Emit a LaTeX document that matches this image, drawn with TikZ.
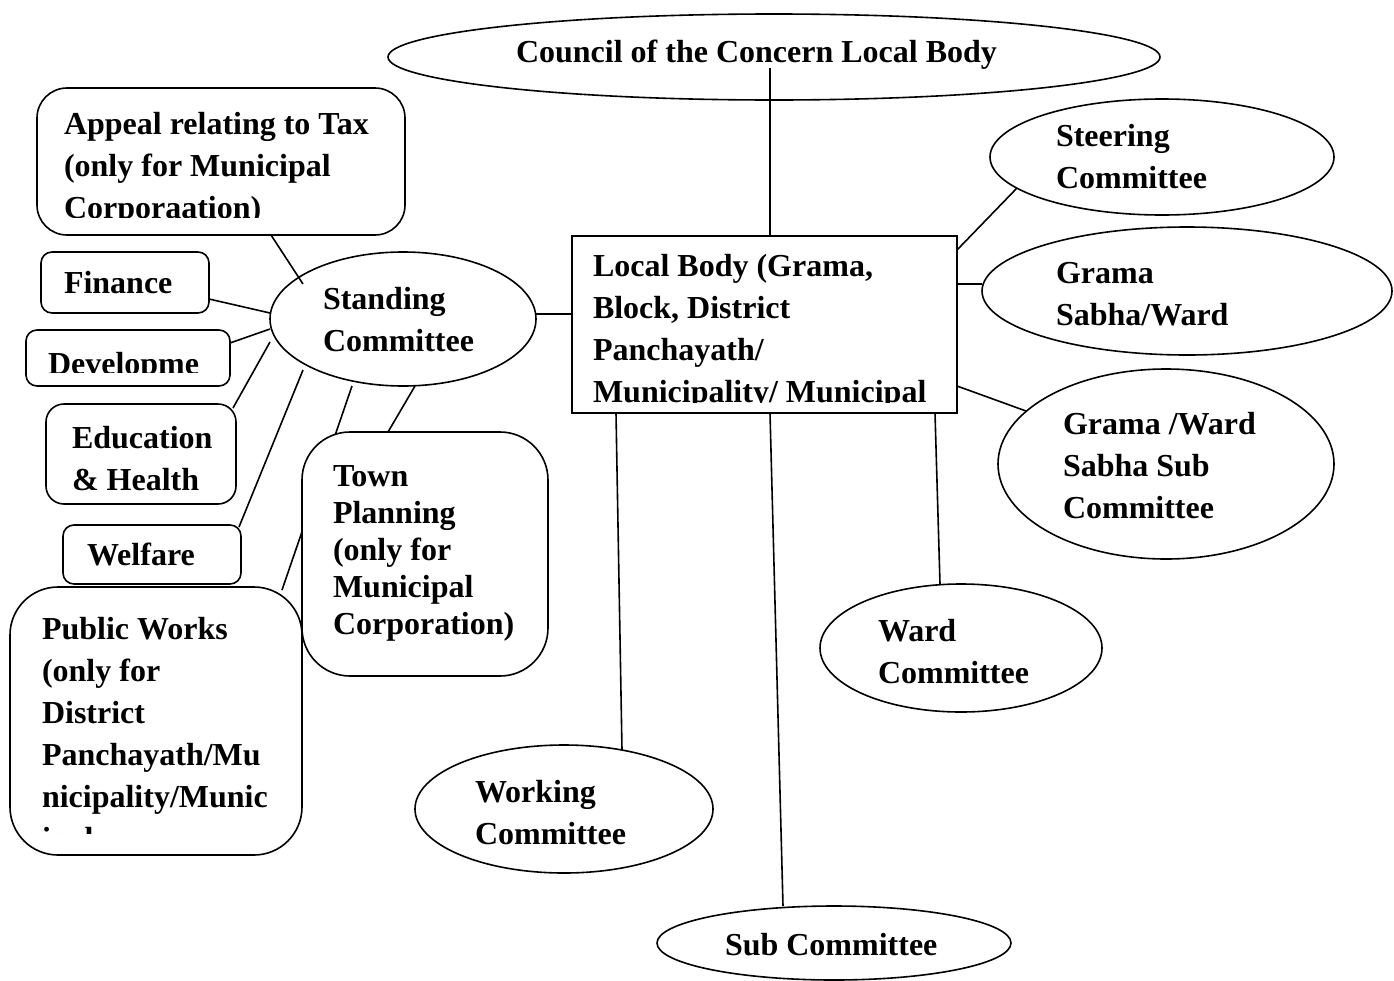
\documentclass[tikz,border=0pt]{standalone}
\usepackage{fontspec}
\setmainfont{Liberation Serif}
\usetikzlibrary{shapes.geometric,calc,backgrounds}
\newcommand{\mlines}[1]{\begin{tabular}[t]{@{}l@{}}#1\end{tabular}}
\begin{document}
\begin{tikzpicture}[x=1pt,y=-1pt,
  shp/.style={draw, line width=1.6pt, inner sep=0pt, outer sep=0pt},
  ell/.style={shp, ellipse},
  rbox/.style={shp, rectangle, rounded corners=#1},
  txt/.style={inner sep=0pt, outer sep=0pt, anchor=base west, font=\fontsize{32}{42}\selectfont\bfseries},
  txtb/.style={txt, font=\fontsize{32}{37}\selectfont\bfseries},
  conn/.style={line width=1.6pt}]
\useasboundingbox (0,0) rectangle (1394,980);

% shapes
\node[ell, minimum width=772, minimum height=86] (council) at (774,57) {};
\node[shp, rectangle, minimum width=385, minimum height=177] (local) at (764.5,324.5) {};
\node[ell, minimum width=266, minimum height=134] (stand) at (403,319) {};
\node[rbox=30, minimum width=368, minimum height=147] (appeal) at (221,161.5) {};
\node[rbox=11, minimum width=168, minimum height=61] (finance) at (125,282.5) {};
\node[rbox=11, minimum width=204, minimum height=56] (devel) at (128,358) {};
\node[rbox=18, minimum width=190, minimum height=100] (edu) at (141,454) {};
\node[rbox=11, minimum width=178, minimum height=59] (welfare) at (152,554.5) {};
\node[rbox=48, minimum width=292, minimum height=268] (public) at (156,721) {};
\node[rbox=48, fill=white, minimum width=246, minimum height=244] (town) at (425,554) {};
\node[ell, minimum width=344, minimum height=116] (steer) at (1162,157) {};
\node[ell, minimum width=410, minimum height=128] (grama) at (1187,291) {};
\node[ell, minimum width=336, minimum height=190] (gsub) at (1166,464) {};
\node[ell, minimum width=282, minimum height=128] (ward) at (961,648) {};
\node[ell, minimum width=298, minimum height=128] (working) at (564,809) {};
\node[ell, minimum width=354, minimum height=74] (sub) at (834,943) {};

% texts
\node[txt] (council-t) at (516,62) {Council of the Concern Local Body};
\begin{scope}
  \clip (572,236) rectangle (957,402);
  \node[txt] (local-t) at (593,276) {\mlines{Local Body (Grama,\\Block, District\\Panchayath/\\Municipality/ Municipal}};
\end{scope}
\node[txt] (stand-t) at (323,309) {\mlines{Standing\\Committee}};
\begin{scope}
  \clip (37,88) rectangle (405,217);
  \node[txt] (appeal-t) at (64,134) {\mlines{Appeal relating to Tax\\(only for Municipal\\Corporaation)}};
\end{scope}
\node[txt] (finance-t) at (64,293) {Finance};
\begin{scope}
  \clip (26,330) rectangle (230,372);
  \node[txt] (devel-t) at (48,374) {Developme};
\end{scope}
\node[txt] (edu-t) at (72,448) {\mlines{Education\\\& Health}};
\node[txt] (welfare-t) at (87,565) {Welfare};
\begin{scope}
  \clip (10,587) rectangle (302,833);
  \node[txt] (public-t) at (42,639) {\mlines{Public Works\\(only for\\District\\Panchayath/Mu\\nicipality/Munic\\ipal}};
\end{scope}
\node[txtb] (town-t) at (333,486) {\mlines{Town\\Planning\\(only for\\Municipal\\Corporation)}};
\node[txt] (steer-t) at (1056,146) {\mlines{Steering\\Committee}};
\node[txt] (grama-t) at (1056,283) {\mlines{Grama\\Sabha/Ward}};
\node[txt] (gsub-t) at (1063,434) {\mlines{Grama /Ward\\Sabha Sub\\Committee}};
\node[txt] (ward-t) at (878,641) {\mlines{Ward\\Committee}};
\node[txt] (working-t) at (475,802) {\mlines{Working\\Committee}};
\node[txt] (sub-t) at (725,955) {Sub Committee};

% connectors
\begin{scope}[on background layer]
\draw[conn] ($(council)+(-4,11)$) -- ($(local.north)+(5.5,0)$);
\draw[conn] ($(stand.east)+(0,-5)$) -- ($(local.west)+(0,-10.5)$);
\draw[conn] ($(appeal.south)+(50,0)$) -- ($(stand)+(-100,-35)$);
\draw[conn] ($(finance.east)+(0,16.5)$) -- ($(stand)+(-133,-6)$);
\draw[conn] ($(devel.east)+(0,-15)$) -- ($(stand)+(-133,10)$);
\draw[conn] ($(edu.north east)+(-3,4)$) -- ($(stand)+(-133,23)$);
\draw[conn] ($(welfare.north east)+(-2,2)$) -- ($(stand)+(-100,51)$);
\draw[conn] ($(public.north east)+(-20,3)$) -- ($(stand.south)+(-51,0)$);
\draw[conn] ($(town.north)+(-37,0)$) -- ($(stand.south)+(12,0)$);
\draw[conn] ($(local.north east)+(0,14)$) -- ($(steer)+(-145,31)$);
\draw[conn] ($(local.east)+(0,-40.5)$) -- ($(grama.west)+(0,-7)$);
\draw[conn] ($(local.east)+(0,61.5)$) -- ($(gsub)+(-140,-53)$);
\draw[conn] ($(local.south east)+(-22,0)$) -- ($(ward.north)+(-21,0)$);
\draw[conn] ($(local.south)+(5.5,0)$) -- ($(sub.north)+(-51,0)$);
\draw[conn] ($(local.south west)+(44,0)$) -- ($(working)+(58,-59)$);
\end{scope}
\end{tikzpicture}
\end{document}
